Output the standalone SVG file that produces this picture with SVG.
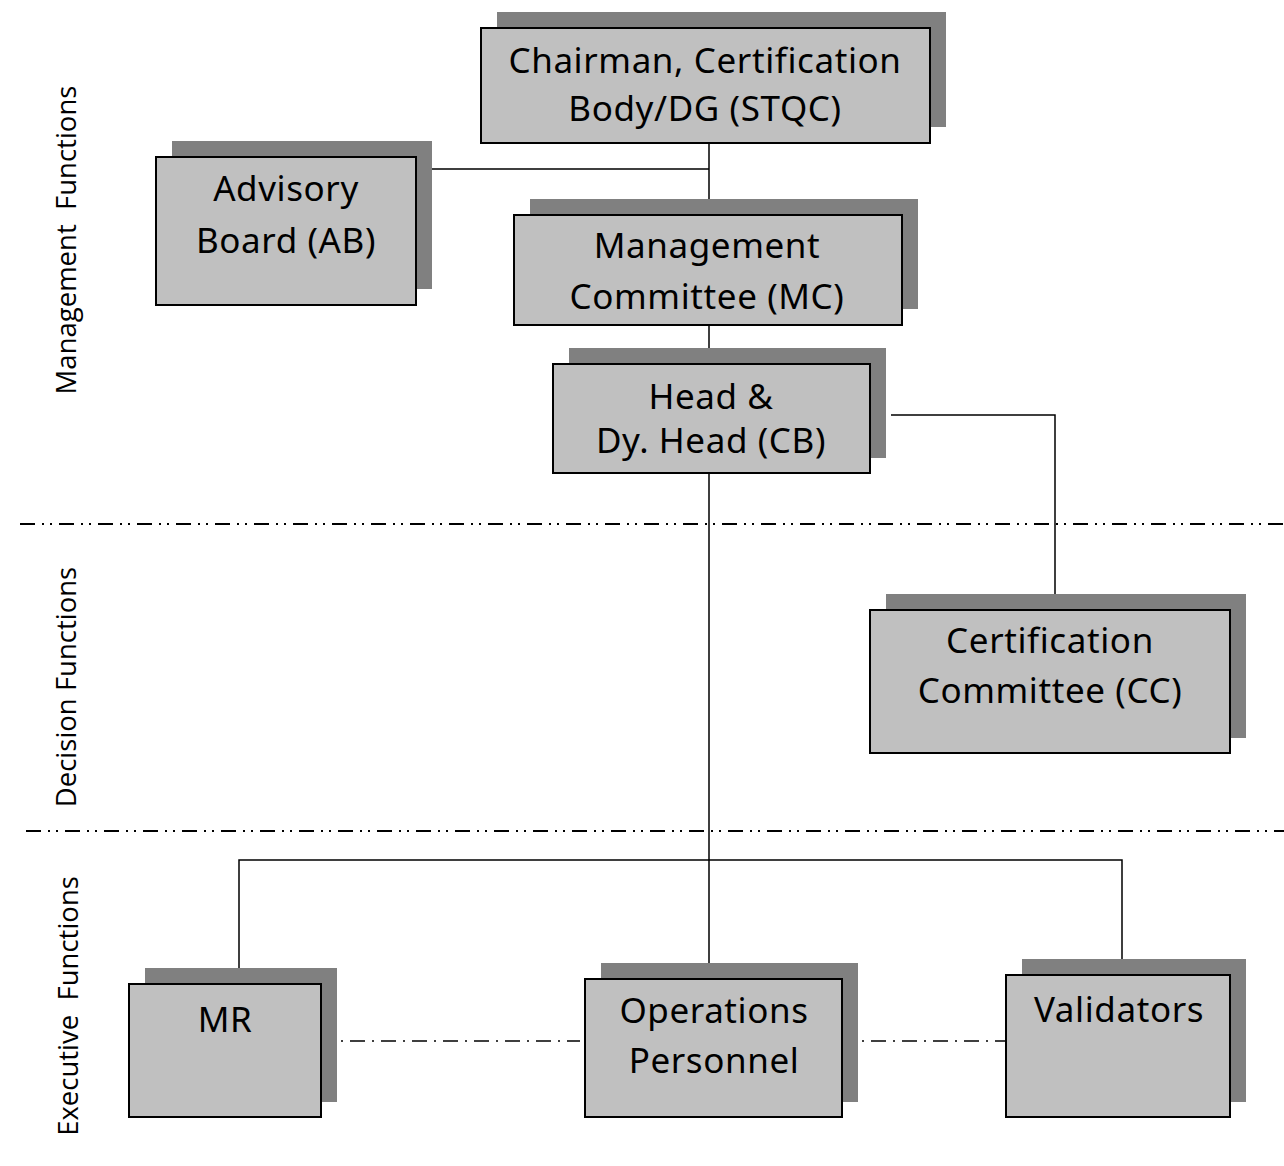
<svg xmlns="http://www.w3.org/2000/svg" width="1284" height="1166" viewBox="0 0 1284 1166">
<style>
.sh{fill:#808080;stroke:none}
.bx{fill:#c0c0c0;stroke:#000;stroke-width:2}
.t{font-family:"Noto Sans","DejaVu Sans",sans-serif;font-size:35px;letter-spacing:0.6px;fill:#000;text-anchor:middle}
.side{font-family:"Open Sans",Lato,sans-serif;font-size:27.5px;fill:#000;text-anchor:middle}
.ln{fill:none;stroke:#000;stroke-width:1.5}
.dd{fill:none;stroke:#000;stroke-width:2;stroke-dasharray:15 7 2 6 2 7}
.d1{fill:none;stroke:#000;stroke-width:1.5;stroke-dasharray:2 7 15 7}
</style>
<rect width="1284" height="1166" fill="#fff"/>
<g id="connectors">
<path class="ln" d="M709 143V199M432 169H709M709 325V348M709 473V878M709 870V963M891 415H1055V598M239 968V860H1122V959"/>
<path class="dd" d="M20 524H1284"/>
<path class="dd" d="M26 831H1284"/>
<path class="d1" d="M341 1041H580M862 1041H1005"/>
</g>
<g id="chairman">
<rect class="sh" x="497" y="12" width="449" height="115"/>
<rect class="bx" x="481" y="28" width="449" height="115"/>
<text class="t" x="705" y="73">Chairman, Certification</text>
<text class="t" x="705" y="121">Body/DG (STQC)</text>
</g>
<g id="advisory">
<rect class="sh" x="172" y="141" width="260" height="148"/>
<rect class="bx" x="156" y="157" width="260" height="148"/>
<text class="t" x="286" y="201">Advisory</text>
<text class="t" x="286" y="253">Board (AB)</text>
</g>
<g id="mc">
<rect class="sh" x="530" y="199" width="388" height="110"/>
<rect class="bx" x="514" y="215" width="388" height="110"/>
<text class="t" x="707" y="258">Management</text>
<text class="t" x="707" y="309">Committee (MC)</text>
</g>
<g id="head">
<rect class="sh" x="569" y="348" width="317" height="110"/>
<rect class="bx" x="553" y="364" width="317" height="109"/>
<text class="t" x="711" y="409">Head &amp;</text>
<text class="t" x="711" y="453">Dy. Head (CB)</text>
</g>
<g id="cc">
<rect class="sh" x="886" y="594" width="360" height="144"/>
<rect class="bx" x="870" y="610" width="360" height="143"/>
<text class="t" x="1050" y="653">Certification</text>
<text class="t" x="1050" y="703">Committee (CC)</text>
</g>
<g id="mr">
<rect class="sh" x="145" y="968" width="192" height="134"/>
<rect class="bx" x="129" y="984" width="192" height="133"/>
<text class="t" x="225" y="1032">MR</text>
</g>
<g id="ops">
<rect class="sh" x="601" y="963" width="257" height="139"/>
<rect class="bx" x="585" y="979" width="257" height="138"/>
<text class="t" x="714" y="1023">Operations</text>
<text class="t" x="714" y="1073">Personnel</text>
</g>
<g id="validators">
<rect class="sh" x="1022" y="959" width="224" height="143"/>
<rect class="bx" x="1006" y="975" width="224" height="142"/>
<text class="t" x="1119" y="1022">Validators</text>
</g>
<g id="labels">
<text class="side" transform="translate(76 240) rotate(-90)" xml:space="preserve">Management  Functions</text>
<text class="side" transform="translate(76 687) rotate(-90)">Decision Functions</text>
<text class="side" transform="translate(78 1006) rotate(-90)" xml:space="preserve">Executive  Functions</text>
</g>
</svg>
